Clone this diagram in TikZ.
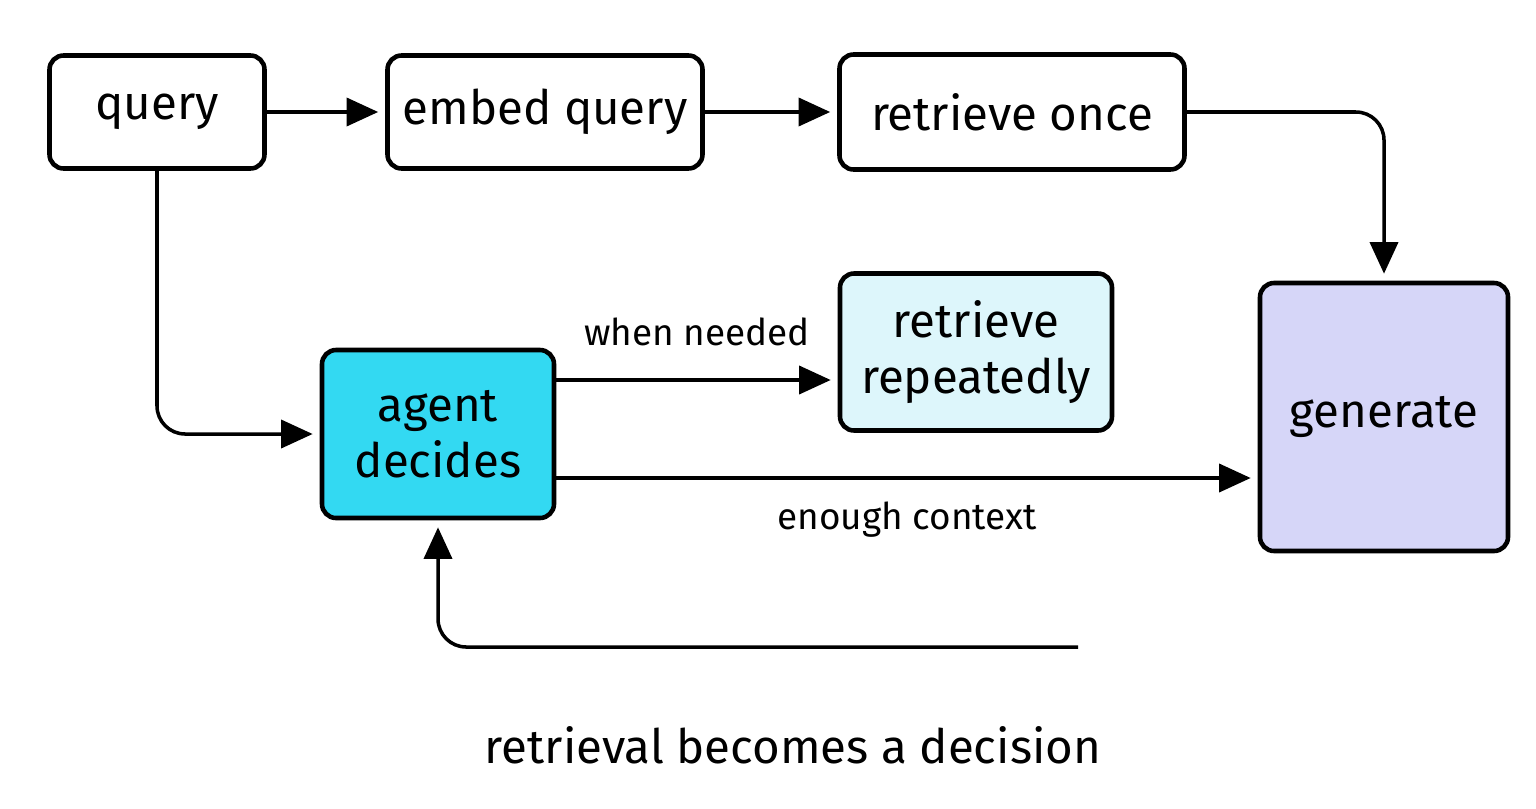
\documentclass[tikz,border=0pt]{standalone}
\usepackage{fontspec}
\setmainfont{Fira Sans}
\usepackage{tikz}
\usetikzlibrary{shapes, positioning}
\usetikzlibrary{calc}
\usetikzlibrary{arrows.meta}
\definecolor{agentcyan}{RGB}{51,217,242}
\definecolor{paleblue}{RGB}{221,246,251}
\definecolor{lavender}{RGB}{214,214,248}

\begin{document}
\begin{tikzpicture}[x=1cm, y=-1cm,
		box/.style={draw, line width=1.3pt, rounded corners=4pt, align=center, inner sep=0pt, font=\fontsize{13.5}{16}\selectfont},
		flow/.style={-{Triangle[length=9pt, width=8pt]}, line width=1pt, rounded corners=8pt, shorten >=2pt},
		lbl/.style={font=\fontsize{10.5}{12}\selectfont}]
		\useasboundingbox (0,0) rectangle (15.36,8.08);
		\node[box, minimum width=2.15cm, minimum height=1.13cm] (query) at (1.57,1.12) {query};
		\node[box, minimum width=3.15cm, minimum height=1.13cm] (embed) at (5.45,1.12) {embed query};
		\node[box, minimum width=3.45cm, minimum height=1.15cm] (once) at (10.12,1.12) {retrieve once};
		\node[box, fill=paleblue, minimum width=2.72cm, minimum height=1.57cm] (repeat) at (9.76,3.52) {retrieve\\repeatedly};
		\node[box, fill=agentcyan, minimum width=2.32cm, minimum height=1.68cm] (agent) at (4.38,4.34) {agent\\decides};
		\node[box, fill=lavender, minimum width=2.48cm, minimum height=2.68cm] (generate) at (13.84,4.17) {generate};
		\coordinate (needy) at (0,3.80);
		\coordinate (enough) at (0,4.78);
		\coordinate (loopend) at (10.78,6.47);
		\draw[flow] (query) -- (embed);
		\draw[flow] (embed) -- (once);
		\draw[flow] (once.east) -| (generate.north);
		\draw[flow] (query.south) |- (agent.west);
		\draw[flow] (agent.east |- needy) -- (repeat.west |- needy) node[lbl, midway, above=6pt] {when needed};
		\draw[flow] (agent.east |- enough) -- (generate.west |- enough) node[lbl, midway, below=3pt] {enough context};
		\draw[flow] (loopend) -| (agent.south);
		\node[font=\fontsize{13.5}{16}\selectfont] (caption) at (7.93,7.45) {retrieval becomes a decision};
	\end{tikzpicture}
\end{document}
